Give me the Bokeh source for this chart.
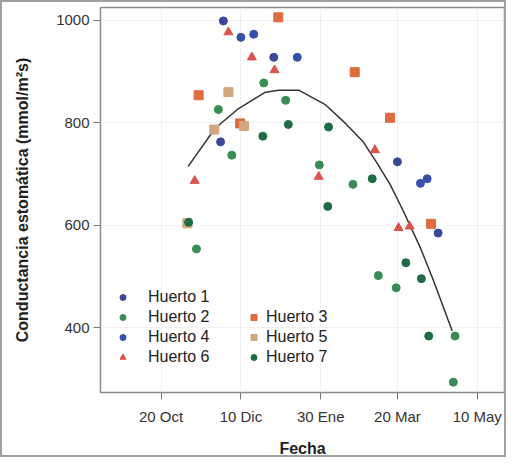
from bokeh.plotting import figure
from bokeh.models import Range1d, FixedTicker, Legend, LegendItem
from bokeh.embed import file_html
from bokeh.resources import INLINE

# x = days since 20 Oct
tick_days = [0, 51, 102, 151, 202]
tick_labels = ["20 Oct", "10 Dic", "30 Ene", "20 Mar", "10 May"]

h1_x = [39.8, 72, 38, 151, 177]
h1_y = [999, 928, 763, 724, 585]
h4_x = [51, 59.2, 87, 165.7, 170]
h4_y = [967, 973, 928, 682, 691]
h6_x = [43, 58, 72.5, 21.5, 100.7, 136.6, 151.7, 158.8]
h6_y = [977, 928, 903, 687, 695, 747, 595, 598]
h3_x = [74.9, 24, 123.7, 146.3, 50.5, 172.5]
h3_y = [1006, 854, 899, 810, 799, 603]
h5_x = [43, 53, 34, 16.8]
h5_y = [860, 794, 787, 604]
h2_x = [65.6, 79.6, 36.6, 45.2, 101.1, 122.6, 22.6, 138.8, 150.2, 187.8, 186.7]
h2_y = [878, 844, 826, 737, 718, 680, 554, 502, 478, 384, 294]
h7_x = [81.3, 65, 107, 134.9, 17.6, 106.5, 156.4, 166.3, 171]
h7_y = [797, 774, 792, 691, 606, 637, 527, 496, 384]

fit_x = [17.2, 34.4, 49.5, 66.7, 75.3, 88.2, 105.2, 118.1, 129.1, 137.5, 146.3, 154.9, 165.7, 174.2, 186]
fit_y = [714.6, 789, 828, 860, 863.5, 863.5, 835, 798, 763, 724, 680, 627, 556, 491, 394]

p = figure(width=506, height=457, output_backend="svg", toolbar_location=None,
           x_range=Range1d(-38.7, 219.4), y_range=Range1d(273.8, 1025.2),
           min_border_left=98, min_border_right=4, min_border_top=5, min_border_bottom=61)
p.styles = {"border": "2px solid #a0a0a0", "box-sizing": "border-box"}

p.outline_line_color = "#8a8a8a"
p.outline_line_width = 1.5
p.xgrid.grid_line_color = "#f0f0f0"
p.ygrid.grid_line_color = "#f0f0f0"

p.xaxis.ticker = FixedTicker(ticks=tick_days)
p.xaxis.major_label_overrides = {d: l for d, l in zip(tick_days, tick_labels)}
p.yaxis.ticker = FixedTicker(ticks=[400, 600, 800, 1000])
for ax in (p.xaxis[0], p.yaxis[0]):
    ax.axis_line_color = None
    ax.major_tick_line_color = "#777777"
    ax.major_tick_out = 7
    ax.major_tick_in = 0
    ax.minor_tick_line_color = None
    ax.major_label_text_font = "Liberation Sans"
    ax.major_label_text_font_size = "15px"
    ax.major_label_text_color = "#333333"
    ax.axis_label_text_font = "Liberation Sans"
    ax.axis_label_text_font_size = "16px"
    ax.axis_label_text_font_style = "bold"
    ax.axis_label_text_color = "#222222"
p.xaxis.axis_label = "Fecha"
p.yaxis.axis_label = "Conductancia estomática (mmol/m²s)"
p.xaxis.major_label_standoff = 8
p.xaxis.axis_label_standoff = 12
p.yaxis.major_label_standoff = 4
p.yaxis.axis_label_standoff = 22

fit = p.line(fit_x, fit_y, line_color="#333333", line_width=1.5)

r1 = p.scatter(h1_x, h1_y, marker="circle", size=8, color="#3a4896")
r2 = p.scatter(h2_x, h2_y, marker="circle", size=8, color="#3a8d52")
r4 = p.scatter(h4_x, h4_y, marker="circle", size=8, color="#3550a8")
r6 = p.scatter(h6_x, h6_y, marker="triangle", size=9, color="#d9544c")
r3 = p.scatter(h3_x, h3_y, marker="square", size=9, color="#df6b3e")
r5 = p.scatter(h5_x, h5_y, marker="square", size=9, color="#d2a67e")
r7 = p.scatter(h7_x, h7_y, marker="circle", size=8, color="#1f6b45")

def mk_legend(items, loc, standoff):
    lg = Legend(items=items, location=loc, orientation="vertical",
                border_line_color=None, background_fill_alpha=0,
                margin=0, padding=0, spacing=0, label_standoff=standoff,
                glyph_width=15, glyph_height=20, label_height=20,
                label_text_font="Liberation Sans", label_text_font_size="16px",
                label_text_color="#222222")
    return lg

leg1 = mk_legend([LegendItem(label="Huerto 1", renderers=[r1]),
                  LegendItem(label="Huerto 2", renderers=[r2]),
                  LegendItem(label="Huerto 4", renderers=[r4]),
                  LegendItem(label="Huerto 6", renderers=[r6])], (15, 25), 18)
leg2 = mk_legend([LegendItem(label="Huerto 3", renderers=[r3]),
                  LegendItem(label="Huerto 5", renderers=[r5]),
                  LegendItem(label="Huerto 7", renderers=[r7])], (146, 25), 5)
p.add_layout(leg1, "center")
p.add_layout(leg2, "center")

open("out.html", "w").write(file_html(p, INLINE))
